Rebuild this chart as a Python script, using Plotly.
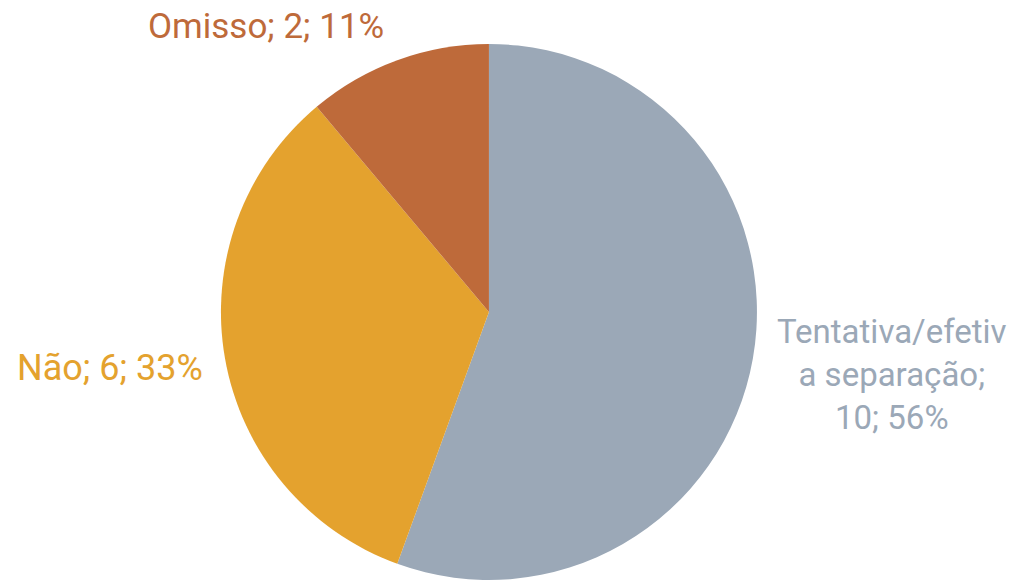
import plotly.graph_objects as go

labels = ["Tentativa/efetiva separação", "Não", "Omisso"]
values = [10, 6, 2]
colors = ["#9BA8B7", "#E4A22E", "#BE6A3A"]
label_texts = ["Tentativa/efetiv<br>a separação;<br>10; 56%", "Não; 6; 33%", "Omisso; 2; 11%"]

fig = go.Figure(go.Pie(
    labels=labels, values=values, sort=False, direction="clockwise", rotation=0,
    marker=dict(colors=colors, line=dict(width=0)),
    textinfo="none", hoverinfo="label+value+percent",
    domain=dict(x=[0.2179, 0.7465], y=[0.0017, 0.9243]),
))

font_family = "Roboto, sans-serif"
pos = [(892, 374), (110, 368), (266, 27)]
sizes = [33, 36, 35]
for t, c, (x, y), s in zip(label_texts, colors, pos, sizes):
    fig.add_annotation(x=x / 1014, y=1 - y / 581, xref="paper", yref="paper",
                       xanchor="center", yanchor="middle",
                       text=t, showarrow=False, align="center",
                       font=dict(family=font_family, size=s, color=c))

fig.update_layout(width=1014, height=581, margin=dict(l=0, r=0, t=0, b=0),
                  showlegend=False, paper_bgcolor="white", plot_bgcolor="white")
fig.write_html("out.html", config={"displayModeBar": False},
               post_script="document.body.style.margin='0';")
